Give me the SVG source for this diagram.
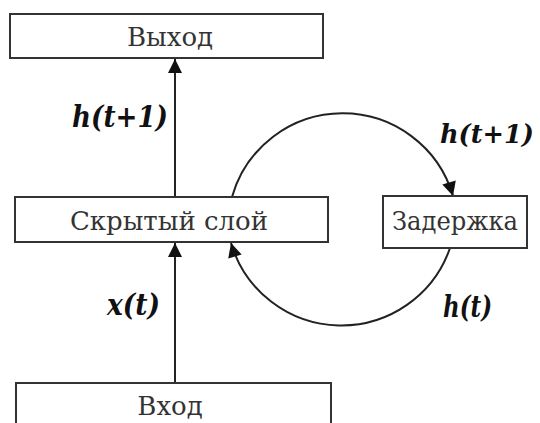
<svg xmlns="http://www.w3.org/2000/svg" width="540" height="423" viewBox="0 0 540 423">
  <style>
    .box { fill: #ffffff; stroke: #333333; stroke-width: 2; }
    .lbl { font-family: 'DejaVu Serif', serif; font-size: 26px; fill: #333333; text-anchor: middle; }
    .var { font-family: 'DejaVu Serif', serif; font-size: 30px; font-style: italic; font-weight: bold; fill: #111111; }
    .conn { fill: none; stroke: #222222; stroke-width: 2; }
  </style>
  <defs>
    <marker id="arrow" viewBox="0 0 10 10" refX="10" refY="5" markerUnits="userSpaceOnUse" markerWidth="18" markerHeight="14" orient="auto">
      <path d="M0,0 L10,5 L0,10 z" fill="#111111"/>
    </marker>
  </defs>
  <rect width="540" height="423" fill="#ffffff"/>

  <g id="connectors">
    <line class="conn" x1="175" y1="197" x2="175" y2="59" marker-end="url(#arrow)"/>
    <line class="conn" x1="175" y1="383" x2="175" y2="243" marker-end="url(#arrow)"/>
    <path class="conn" d="M232,197 A115,115 0 0 1 453,196" marker-end="url(#arrow)"/>
    <path class="conn" d="M450,248 A115,115 0 0 1 231,243" marker-end="url(#arrow)"/>
  </g>

  <g id="output">
    <rect class="box" x="10" y="14" width="313" height="44"/>
    <text class="lbl" x="170" y="46">Выход</text>
  </g>
  <g id="hidden">
    <rect class="box" x="15" y="197" width="313" height="45"/>
    <text class="lbl" x="169" y="230">Скрытый слой</text>
  </g>
  <g id="delay">
    <rect class="box" x="383" y="196" width="144" height="52"/>
    <text class="lbl" x="455" y="230" textLength="126" lengthAdjust="spacingAndGlyphs">Задержка</text>
  </g>
  <g id="input">
    <rect class="box" x="16" y="383" width="315" height="50"/>
    <text class="lbl" x="170" y="415">Вход</text>
  </g>

  <g id="labels">
    <text class="var" x="72" y="127" textLength="96" lengthAdjust="spacingAndGlyphs">h(t+1)</text>
    <text class="var" x="107" y="315" textLength="53" lengthAdjust="spacingAndGlyphs">x(t)</text>
    <text class="var" x="440" y="143" style="font-size:26px" textLength="94" lengthAdjust="spacingAndGlyphs">h(t+1)</text>
    <text class="var" x="443" y="317" textLength="49" lengthAdjust="spacingAndGlyphs">h(t)</text>
  </g>
</svg>
